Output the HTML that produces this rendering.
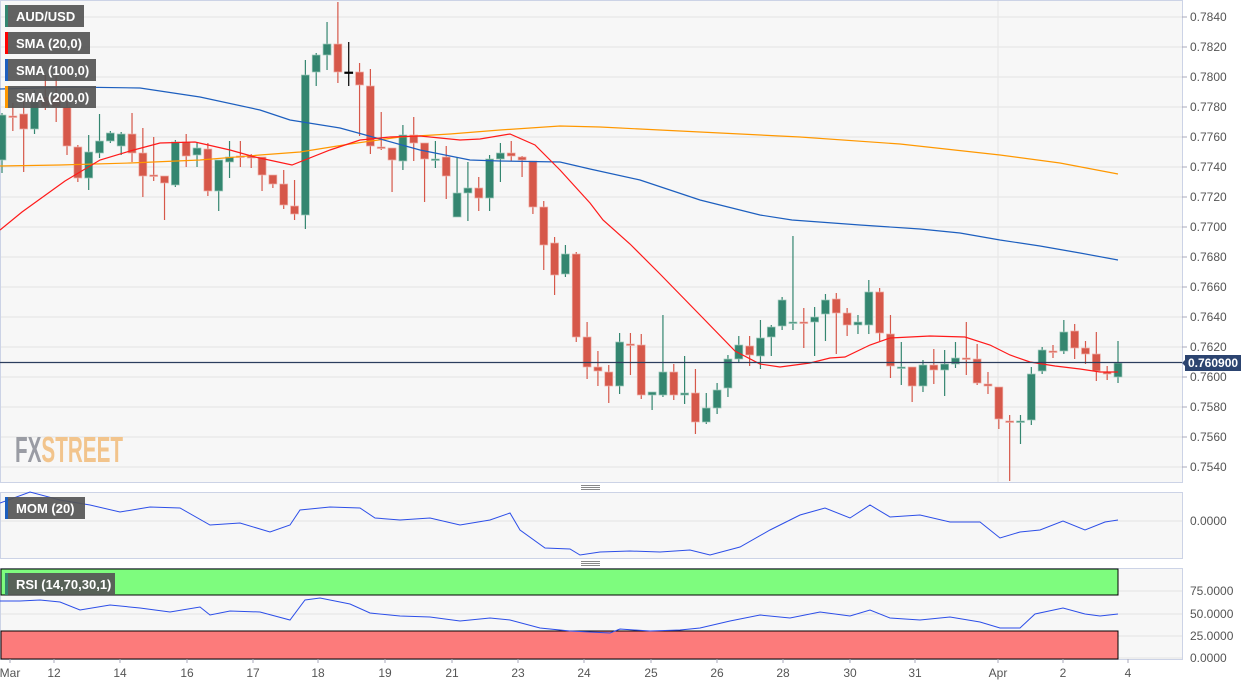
<!DOCTYPE html>
<html><head><meta charset="utf-8"><style>
body{margin:0;background:#fff;width:1259px;height:685px;overflow:hidden;font-family:"Liberation Sans",sans-serif}
svg text{font-family:"Liberation Sans",sans-serif}
</style></head><body>
<svg id="s" width="1259" height="685" xmlns="http://www.w3.org/2000/svg"></svg>
<script>
const s=document.getElementById('s');let h='';
h+='<rect x="0.5" y="0.5" width="1182" height="482" fill="#f7f7f7" stroke="#ccd3e6"/>';
h+='<rect x="0.5" y="492.5" width="1182" height="66" fill="#f7f7f7" stroke="#ccd3e6"/>';
h+='<rect x="0.5" y="568.5" width="1182" height="91" fill="#f7f7f7" stroke="#ccd3e6"/>';
for(let i=0;i<16;i++){let y=17+i*30;let p=(0.7840-i*0.002).toFixed(4);
h+=`<line x1="1" x2="1182" y1="${y}" y2="${y}" stroke="#e3e3e3"/><line x1="1182" x2="1187" y1="${y}" y2="${y}" stroke="#aab"/><text x="1190" y="${y+4}" font-size="12" fill="#555">${p}</text>`;}
h+='<line x1="998" x2="998" y1="1" y2="482" stroke="#e6e6e6"/>';
h+='<line x1="1" x2="1182" y1="521" y2="521" stroke="#e3e3e3"/><text x="1190" y="525" font-size="12" fill="#555">0.0000</text>';
[[591,'75.0000'],[614,'50.0000'],[636,'25.0000'],[658,'0.0000']].forEach(([y,t])=>{h+=`<line x1="1" x2="1182" y1="${y}" y2="${y}" stroke="#e3e3e3"/><text x="1190" y="${y+4}" font-size="12" fill="#555">${t}</text>`});
h+='<rect x="1" y="569" width="1117" height="26" fill="#7efc7e" stroke="#000" stroke-width="1"/>';
h+='<rect x="1" y="631" width="1117" height="28" fill="#fc7b7b" stroke="#000" stroke-width="1"/>';
h+='<text x="15" y="462" font-size="36" font-weight="bold" fill="#9a9ca4" textLength="108" lengthAdjust="spacingAndGlyphs">FX<tspan fill="#f2c48c">STREET</tspan></text>';
const C=[[160,115,113,173],[116,116,103,131],[114,129,100,172],[129,102,90,134],[97,107,75,110],[97,107,76,122],[107,146,100,155],[147,178,145,182],[178,152,135,190],[153,141,114,158],[141,133,131,143],[146,134,132,155],[134,153,113,162],[153,176,128,197],[175,175,137,181],[176,183,176,220],[185,142,140,187],[142,156,134,167],[155,148,142,167],[149,191,143,196],[191,160,160,211],[162,157,141,178],[156,156,141,167],[156,158,154,168],[157,175,157,191],[175,184,175,188],[184,205,170,209],[206,214,180,220],[215,75,60,229],[72,55,53,86],[55,44,22,70],[44,72,2,83],[72,72,42,86,1],[72,85,63,136],[86,146,69,154],[147,147,112,150],[148,160,148,192],[161,135,125,170],[135,143,117,161],[143,159,143,202],[159,159,141,168,2],[157,176,146,199],[217,193,157,217],[193,188,162,221],[188,198,177,211],[198,159,155,211],[159,153,143,182],[153,156,141,161],[157,160,156,177],[161,207,161,214],[207,245,201,270],[243,275,237,295],[274,254,245,277],[254,337,252,342],[337,367,322,379],[367,371,351,386],[372,386,365,403],[386,342,333,394],[344,344,333,375],[345,395,334,399],[395,392,392,410],[395,372,315,397],[372,395,364,400],[395,393,356,404],[393,422,369,434],[422,408,393,424],[408,390,383,414],[388,359,355,397],[359,345,336,363],[346,355,336,366],[356,338,320,369],[337,327,325,356],[326,300,297,330],[322,322,236,330,2],[322,322,308,348],[322,317,307,356],[314,300,294,341],[299,313,293,354],[313,325,308,336],[325,322,315,334],[325,292,280,334],[292,333,288,341],[334,366,315,378],[367,367,342,385,2],[367,386,367,402],[386,365,360,392],[365,370,349,384],[370,364,350,396],[364,358,342,368],[358,358,322,375],[359,383,344,385],[384,386,372,394],[387,419,387,429],[421,421,415,481],[421,421,415,444,2],[420,374,367,425],[371,350,347,374],[351,351,345,358],[351,332,320,354],[331,348,324,359],[348,354,341,364],[354,371,332,381],[372,374,366,380],[377,363,341,383]];
C.forEach((c,i)=>{const x=2+i*10.835;let[o,cl,hi,lo,f]=c;let col=f==1?'#000':(f==2||cl<o?'#348670':'#d6584a');
h+=`<line x1="${x}" x2="${x}" y1="${hi}" y2="${lo}" stroke="${col}" stroke-width="1.2"/>`;
let t=Math.min(o,cl),b=Math.max(Math.abs(o-cl),1.5);h+=`<rect x="${x-4}" y="${t}" width="8" height="${b}" fill="${col}" stroke="${f==1?'#000':(col=='#348670'?'#9fc9bc':'#f0b0a8')}" stroke-width="0.7"/>`;});
const pl=(p,c,w)=>h+=`<polyline fill="none" stroke="${c}" stroke-width="${w||1.2}" points="${p}"/>`;
pl('0,166 60,165 130,163 200,160 260,155 300,152 350,144 400,137 450,134 500,130 560,126 600,127 700,132 800,137 900,144 1000,155 1060,163 1118,174','#ff9800');
pl('0,89 70,87 140,88 200,97 260,110 290,120 340,128 380,139 420,150 470,160 500,161 560,162 590,169 640,180 700,200 760,215 792,220 860,225 920,229 960,233 1000,240 1040,246 1080,253 1118,260','#1d5fbf');
pl('0,230 22,212 65,181 100,160 130,151 160,143 195,142 230,150 255,157 292,165 330,150 360,140 390,137 420,136 460,140 480,139 510,134 535,145 560,170 590,203 603,220 630,244 660,274 700,315 735,351 760,364 780,367 810,363 830,358 845,357 870,345 890,338 930,336 965,337 990,345 1010,355 1030,362 1055,366 1080,369 1100,372 1118,372','#ff1a1a');
pl('0,503 30,492 60,500 90,505 120,512 150,507 180,508 210,525 240,523 270,532 290,525 300,510 330,507 360,508 375,518 400,520 430,518 460,525 490,520 510,513 520,530 545,548 570,549 580,555 600,552 630,551 660,552 690,550 710,555 740,547 770,530 800,515 825,508 850,518 870,505 890,517 920,515 950,522 980,522 1000,538 1020,532 1040,530 1063,521 1085,530 1105,522 1118,520','#2c4ee8',1);
pl('0,601 20,601 40,600 60,602 80,610 110,605 140,608 170,612 200,607 210,615 230,611 260,612 290,620 305,600 320,598 350,604 370,613 400,616 430,617 460,621 490,618 510,620 540,628 570,631 610,633 620,629 650,631 680,630 700,628 730,621 760,615 790,618 820,612 850,616 870,610 890,618 920,620 950,617 980,622 1000,628 1020,628 1035,614 1063,608 1085,614 1100,616 1118,614','#2c4ee8',1);
h+='<line x1="0" x2="1182" y1="362.5" y2="362.5" stroke="#2c3e5e" stroke-width="1.2"/><polygon points="1182,363 1186,359 1186,367" fill="#2c4470"/><rect x="1185" y="355" width="56" height="16" fill="#2c4470"/><text x="1188" y="367" font-size="12" font-weight="bold" fill="#fff">0.760900</text>';
const L=(y,w,c,t)=>h+=`<rect x="5" y="${y}" width="${w}" height="22" fill="#555" opacity="0.92"/><rect x="5" y="${y}" width="3" height="22" fill="${c}"/><text x="16" y="${y+16}" font-size="13" font-weight="bold" fill="#fff">${t}</text>`;
L(5,79,'#348670','AUD/USD');L(32,85,'#f00','SMA (20,0)');L(59,91,'#1d5fbf','SMA (100,0)');L(86,91,'#ff9800','SMA (200,0)');
L(497,80,'#1d5fbf','MOM (20)');L(573,110,'#348670','RSI (14,70,30,1)');
h+='<rect x="581" y="485" width="19" height="1" fill="#888"/><rect x="581" y="487" width="19" height="1" fill="#888"/><rect x="581" y="489" width="19" height="1" fill="#888"/>';
h+='<rect x="581" y="561" width="19" height="1" fill="#888"/><rect x="581" y="563" width="19" height="1" fill="#888"/><rect x="581" y="565" width="19" height="1" fill="#888"/>';
[[10,'Mar'],[54,'12'],[120,'14'],[187,'16'],[253,'17'],[318,'18'],[385,'19'],[452,'21'],[518,'23'],[584,'24'],[651,'25'],[717,'26'],[783,'28'],[850,'30'],[915,'31'],[998,'Apr'],[1063,'2'],[1128,'4']].forEach(([x,t])=>{h+=`<line x1="${x}" x2="${x}" y1="659" y2="663" stroke="#aab"/><text x="${x}" y="677" font-size="12" fill="#555" text-anchor="middle">${t}</text>`});
s.innerHTML=h;
</script>
</body></html>
